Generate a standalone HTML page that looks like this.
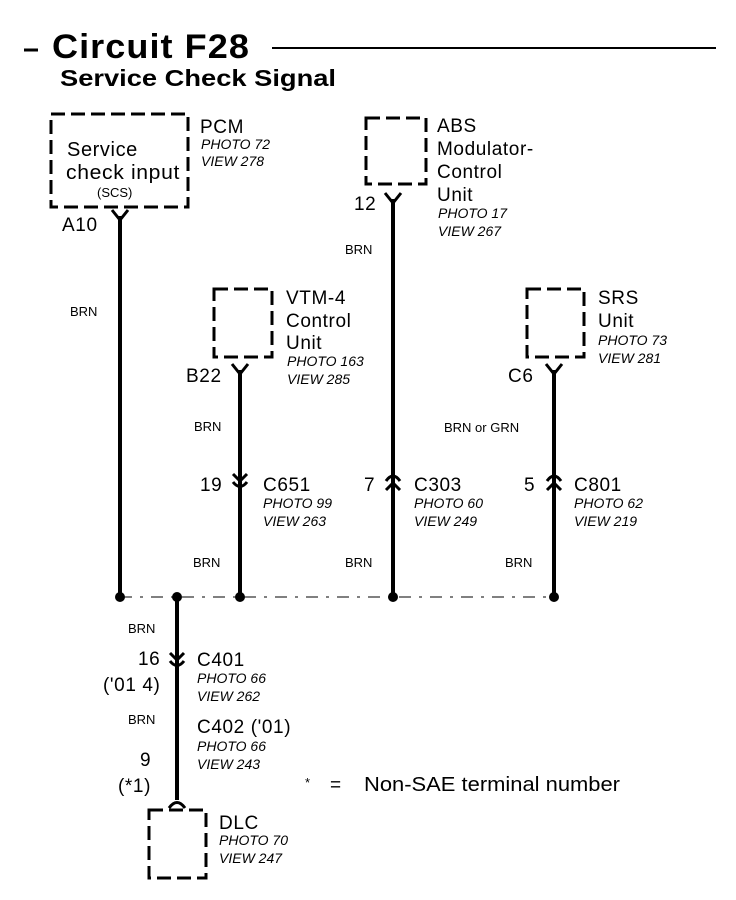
<!DOCTYPE html>
<html><head><meta charset="utf-8"><style>
html,body{margin:0;padding:0;background:#fff;}
svg{display:block;}
text{font-family:"Liberation Sans",Arial,sans-serif;fill:#000;}
.l{font-size:19px;letter-spacing:0.6px;}
.i{font-size:14px;font-style:italic;}
.s{font-size:13px;}
.box{fill:none;stroke:#000;stroke-width:3;stroke-dasharray:14,6;}
.w{stroke:#000;stroke-width:4;fill:none;}
.c{stroke:#000;stroke-width:3;fill:none;}
</style></head><body>
<svg width="736" height="900" viewBox="0 0 736 900" xmlns="http://www.w3.org/2000/svg">
<line x1="24" y1="50" x2="38" y2="50" stroke="#000" stroke-width="3"/>
<text x="52" y="58" style="font-size:34px;font-weight:bold;letter-spacing:1px" textLength="198" lengthAdjust="spacingAndGlyphs">Circuit F28</text>
<line x1="272" y1="48" x2="716" y2="48" stroke="#000" stroke-width="2"/>
<text x="60" y="86" style="font-size:23px;font-weight:bold" textLength="276" lengthAdjust="spacingAndGlyphs">Service Check Signal</text>

<!-- PCM -->
<rect x="51" y="114" width="137" height="93" class="box"/>
<text x="67" y="156" class="l" style="font-size:20px">Service</text>
<text x="66" y="179" class="l" style="font-size:20px" textLength="114" lengthAdjust="spacingAndGlyphs">check input</text>
<text x="97" y="197" class="s">(SCS)</text>
<text x="200" y="133" class="l">PCM</text>
<text x="201" y="149" class="i">PHOTO 72</text>
<text x="201" y="166" class="i">VIEW 278</text>
<text x="62" y="231" class="l">A10</text>
<path d="M112 210 L120 220 L128 210" class="c"/>
<line x1="120" y1="216" x2="120" y2="597" class="w"/>
<text x="70" y="316" class="s">BRN</text>

<!-- ABS -->
<rect x="366" y="118" width="60" height="66" class="box"/>
<text x="437" y="132" class="l">ABS</text>
<text x="437" y="155" class="l">Modulator-</text>
<text x="437" y="178" class="l">Control</text>
<text x="437" y="201" class="l">Unit</text>
<text x="438" y="218" class="i">PHOTO 17</text>
<text x="438" y="236" class="i">VIEW 267</text>
<text x="354" y="210" class="l">12</text>
<path d="M385 193 L393 203 L401 193" class="c"/>
<line x1="393" y1="199" x2="393" y2="597" class="w"/>
<text x="345" y="254" class="s">BRN</text>

<!-- VTM-4 -->
<rect x="214" y="289" width="58" height="68" class="box"/>
<text x="286" y="304" class="l">VTM-4</text>
<text x="286" y="327" class="l">Control</text>
<text x="286" y="349" class="l">Unit</text>
<text x="287" y="366" class="i">PHOTO 163</text>
<text x="287" y="384" class="i">VIEW 285</text>
<text x="186" y="382" class="l">B22</text>
<path d="M232 364 L240 374 L248 364" class="c"/>
<line x1="240" y1="370" x2="240" y2="597" class="w"/>
<text x="194" y="431" class="s">BRN</text>

<!-- SRS -->
<rect x="527" y="289" width="57" height="68" class="box"/>
<text x="598" y="304" class="l">SRS</text>
<text x="598" y="327" class="l">Unit</text>
<text x="598" y="345" class="i">PHOTO  73</text>
<text x="598" y="363" class="i">VIEW 281</text>
<text x="508" y="382" class="l">C6</text>
<path d="M546 364 L554 374 L562 364" class="c"/>
<line x1="554" y1="370" x2="554" y2="597" class="w"/>
<text x="444" y="432" class="s">BRN or GRN</text>

<!-- inline connectors -->
<path d="M233 474 L240 481 L247 474" class="c"/>
<path d="M233 482 Q240 491 247 482" class="c"/>
<text x="200" y="491" class="l">19</text>
<text x="263" y="491" class="l">C651</text>
<text x="263" y="508" class="i">PHOTO 99</text>
<text x="263" y="526" class="i">VIEW 263</text>

<path d="M386 481 Q393 471 400 481" class="c"/>
<path d="M386 490 L393 483 L400 490" class="c"/>
<text x="364" y="491" class="l">7</text>
<text x="414" y="491" class="l">C303</text>
<text x="414" y="508" class="i">PHOTO 60</text>
<text x="414" y="526" class="i">VIEW 249</text>

<path d="M547 481 Q554 471 561 481" class="c"/>
<path d="M547 490 L554 483 L561 490" class="c"/>
<text x="524" y="491" class="l">5</text>
<text x="574" y="491" class="l">C801</text>
<text x="574" y="508" class="i">PHOTO 62</text>
<text x="574" y="526" class="i">VIEW 219</text>

<text x="193" y="567" class="s">BRN</text>
<text x="345" y="567" class="s">BRN</text>
<text x="505" y="567" class="s">BRN</text>

<!-- bus -->
<line x1="120" y1="597" x2="554" y2="597" stroke="#000" stroke-width="1" stroke-dasharray="12,8,3,8"/>
<circle cx="120" cy="597" r="5"/>
<circle cx="177" cy="597" r="5"/>
<circle cx="240" cy="597" r="5"/>
<circle cx="393" cy="597" r="5"/>
<circle cx="554" cy="597" r="5"/>

<line x1="177" y1="597" x2="177" y2="800" class="w"/>
<text x="128" y="633" class="s">BRN</text>
<path d="M170 653 L177 660 L184 653" class="c"/>
<path d="M170 661 Q177 670 184 661" class="c"/>
<text x="138" y="665" class="l">16</text>
<text x="103" y="691" class="l">('01 4)</text>
<text x="197" y="666" class="l">C401</text>
<text x="197" y="683" class="i">PHOTO 66</text>
<text x="197" y="701" class="i">VIEW 262</text>
<text x="128" y="724" class="s">BRN</text>
<text x="197" y="733" class="l">C402 ('01)</text>
<text x="197" y="751" class="i">PHOTO 66</text>
<text x="197" y="769" class="i">VIEW 243</text>
<text x="140" y="766" class="l">9</text>
<text x="118" y="792" class="l">(*1)</text>
<path d="M169 808 Q177 797 185 808" class="c"/>

<text x="305" y="787" class="s">*</text>
<text x="330" y="791" class="l">=</text>
<text x="364" y="791" style="font-size:20px" textLength="256" lengthAdjust="spacingAndGlyphs">Non-SAE terminal number</text>

<!-- DLC -->
<rect x="149" y="810" width="57" height="68" class="box"/>
<text x="219" y="829" class="l">DLC</text>
<text x="219" y="845" class="i">PHOTO 70</text>
<text x="219" y="863" class="i">VIEW 247</text>
</svg>
</body></html>
